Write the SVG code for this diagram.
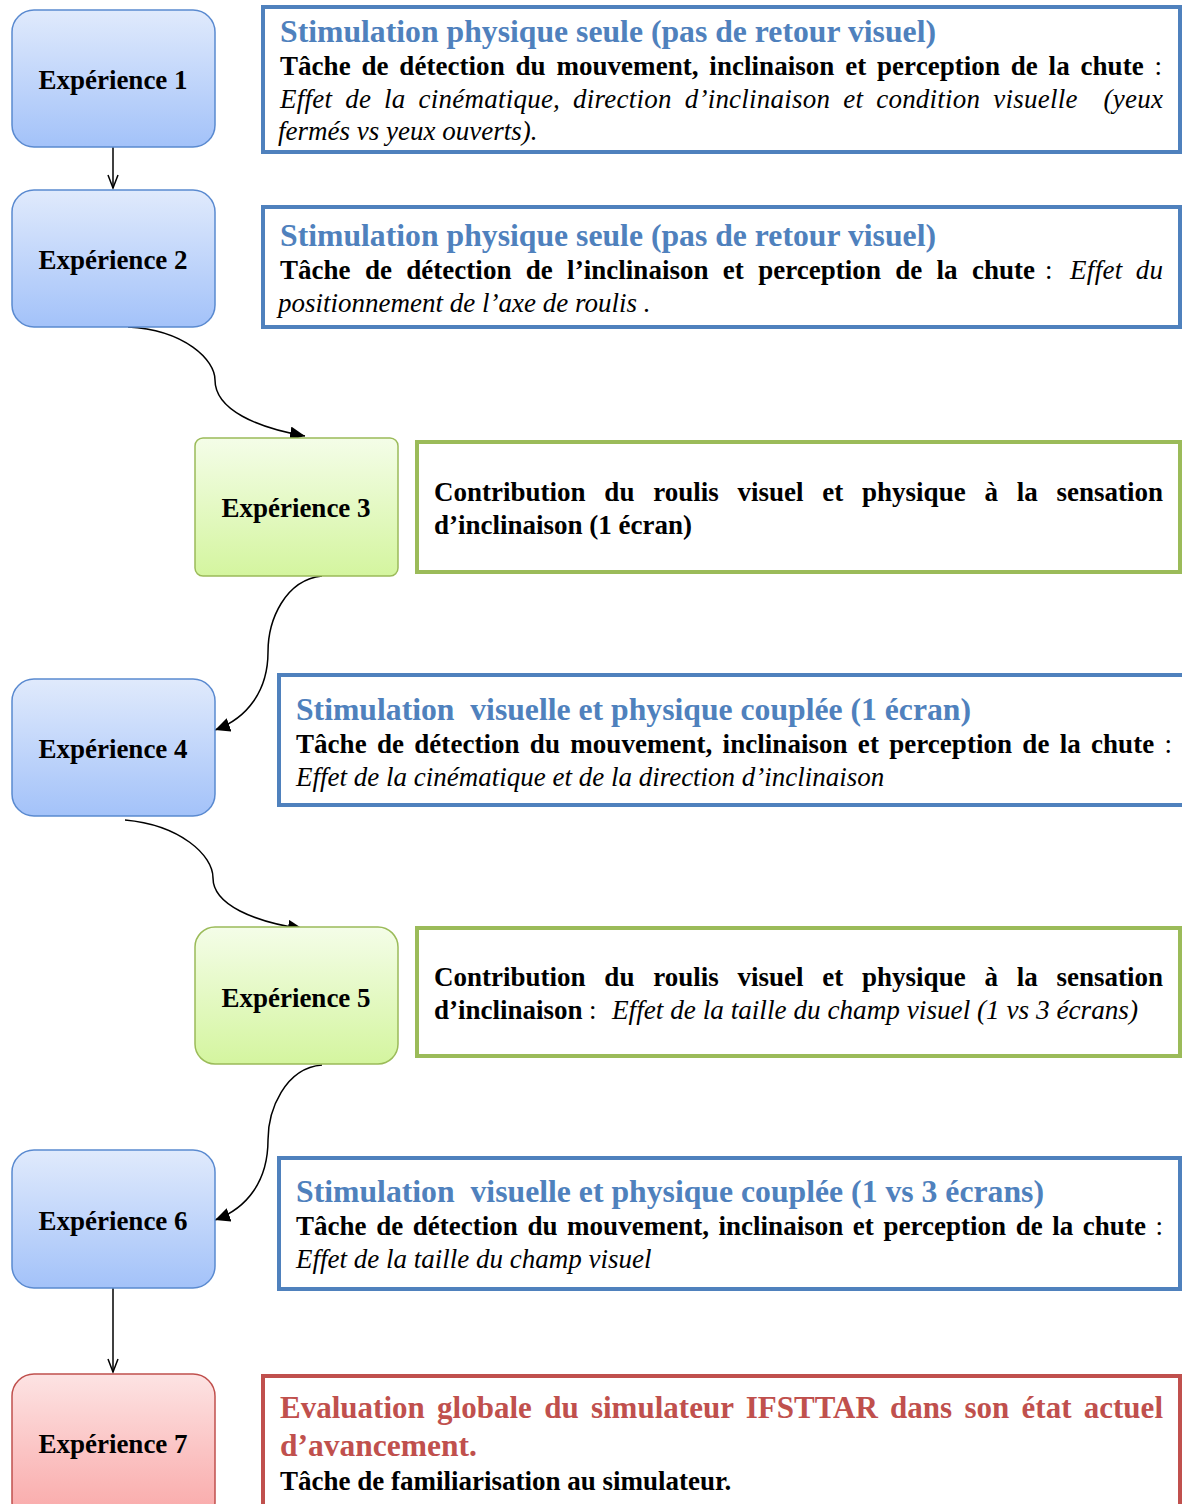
<svg xmlns="http://www.w3.org/2000/svg" width="1182" height="1504" viewBox="0 0 1182 1504">
<style>
.lbl{font-family:"Liberation Serif","Times New Roman",serif;font-size:27px;font-weight:bold;fill:#000;text-anchor:middle}
.t{font-family:"Liberation Serif","Times New Roman",serif;font-size:31px;font-weight:bold}
.tb{fill:#4f81bd}
.tr{fill:#c0504d}
.b{font-family:"Liberation Serif","Times New Roman",serif;font-size:27px;fill:#000}
.bb{font-weight:bold}
.i{font-style:italic;font-weight:normal}
.n{font-weight:normal}
.bluebox{fill:#fff;stroke:#4f81bd;stroke-width:4}
.greenbox{fill:#fff;stroke:#9bbb59;stroke-width:4}
.redbox{fill:#fff;stroke:#c0504d;stroke-width:4}
.nb{fill:url(#gb);stroke:#5a8ad0;stroke-width:1.5}
.ng{fill:url(#gg);stroke:#9bbb59;stroke-width:1.5}
.nr{fill:url(#gr);stroke:#c0504d;stroke-width:1.5}
.c{fill:none;stroke:#000;stroke-width:1.5}
</style>
<defs>
<linearGradient id="gb" x1="0" y1="0" x2="0" y2="1"><stop offset="0" stop-color="#e0eafc"/><stop offset="1" stop-color="#a3c2f9"/></linearGradient>
<linearGradient id="gg" x1="0" y1="0" x2="0" y2="1"><stop offset="0" stop-color="#f4fde8"/><stop offset="1" stop-color="#d4f59f"/></linearGradient>
<linearGradient id="gr" x1="0" y1="0" x2="0" y2="1"><stop offset="0" stop-color="#fde3e3"/><stop offset="1" stop-color="#f9a6a6"/></linearGradient>
<marker id="af" markerWidth="16" markerHeight="14" refX="15" refY="7" orient="auto" markerUnits="userSpaceOnUse"><path d="M0,0 L15,7 L0,14 Z" fill="#000"/></marker>
<marker id="ao" markerWidth="16" markerHeight="12" refX="14" refY="6" orient="auto" markerUnits="userSpaceOnUse"><path d="M1,1 L14,6 L1,11" fill="none" stroke="#000" stroke-width="1.5"/></marker>
</defs>

<g id="connectors">
<path class="c" d="M113,147 L113,188" marker-end="url(#ao)"/>
<path class="c" d="M128,327 C185,330 215,360 215,380 C215,410 258,428 305,436" marker-end="url(#af)"/>
<path class="c" d="M322,576 C285,580 268,620 268,652 C268,690 248,718 215,730" marker-end="url(#af)"/>
<path class="c" d="M125,820 C180,825 213,855 213,878 C213,905 255,922 303,929" marker-end="url(#af)"/>
<path class="c" d="M322,1065 C285,1068 268,1110 268,1140 C268,1180 248,1208 215,1220" marker-end="url(#af)"/>
<path class="c" d="M113,1288 L113,1372" marker-end="url(#ao)"/>
</g>

<g id="exp1"><rect class="nb" x="12" y="10" width="203" height="137" rx="22"/><text class="lbl" x="113" y="89">Expérience 1</text></g>
<g id="exp2"><rect class="nb" x="12" y="190" width="203" height="137" rx="22"/><text class="lbl" x="113" y="269">Expérience 2</text></g>
<g id="exp3"><rect class="ng" x="195" y="438" width="203" height="138" rx="8"/><text class="lbl" x="296" y="517">Expérience 3</text></g>
<g id="exp4"><rect class="nb" x="12" y="679" width="203" height="137" rx="22"/><text class="lbl" x="113" y="758">Expérience 4</text></g>
<g id="exp5"><rect class="ng" x="195" y="927" width="203" height="137" rx="20"/><text class="lbl" x="296" y="1007">Expérience 5</text></g>
<g id="exp6"><rect class="nb" x="12" y="1150" width="203" height="138" rx="22"/><text class="lbl" x="113" y="1230">Expérience 6</text></g>
<g id="exp7"><rect class="nr" x="12" y="1374" width="203" height="150" rx="22"/><text class="lbl" x="113" y="1453">Expérience 7</text></g>

<g id="desc1">
<rect class="bluebox" x="263" y="7" width="917" height="145"/>
<text class="t tb" x="280" y="42" textLength="656" lengthAdjust="spacingAndGlyphs">Stimulation physique seule (pas de retour visuel)</text>
<text class="b bb" x="280" y="75" word-spacing="4" textLength="882" lengthAdjust="spacing">Tâche de détection du mouvement, inclinaison et perception de la chute <tspan class="n">:</tspan></text>
<text class="b i" x="280" y="108" word-spacing="6" textLength="883" lengthAdjust="spacing">Effet de la cinématique, direction d’inclinaison et condition visuelle&#160; (yeux</text>
<text class="b i" x="278" y="140">fermés vs yeux ouverts).</text>
</g>

<g id="desc2">
<rect class="bluebox" x="263" y="207" width="917" height="120"/>
<text class="t tb" x="280" y="246" textLength="656" lengthAdjust="spacingAndGlyphs">Stimulation physique seule (pas de retour visuel)</text>
<text class="b bb" x="280" y="279" word-spacing="7.5" textLength="755" lengthAdjust="spacing">Tâche de détection de l’inclinaison et perception de la chute</text>
<text class="b n" x="1045" y="279">:</text>
<text class="b i" x="1070" y="279" word-spacing="6" textLength="93" lengthAdjust="spacing">Effet du</text>
<text class="b i" x="278" y="312">positionnement de l’axe de roulis .</text>
</g>

<g id="desc3">
<rect class="greenbox" x="417" y="442" width="763" height="130"/>
<text class="b bb" x="434" y="501" word-spacing="12" textLength="729" lengthAdjust="spacing">Contribution du roulis visuel et physique à la sensation</text>
<text class="b bb" x="434" y="534">d’inclinaison (1 écran)</text>
</g>

<g id="desc4">
<rect class="bluebox" x="279" y="675" width="912" height="130"/>
<text class="t tb" x="296" y="720" textLength="675" lengthAdjust="spacingAndGlyphs">Stimulation&#160; visuelle et physique couplée (1 écran)</text>
<text class="b bb" x="296" y="753" word-spacing="3.5" textLength="876" lengthAdjust="spacing">Tâche de détection du mouvement, inclinaison et perception de la chute <tspan class="n">:</tspan></text>
<text class="b i" x="296" y="786">Effet de la cinématique et de la direction d’inclinaison</text>
</g>

<g id="desc5">
<rect class="greenbox" x="417" y="928" width="763" height="128"/>
<text class="b bb" x="434" y="986" word-spacing="12" textLength="729" lengthAdjust="spacing">Contribution du roulis visuel et physique à la sensation</text>
<text class="b bb" x="434" y="1019">d’inclinaison</text>
<text class="b n" x="589" y="1019">:</text>
<text class="b i" x="612" y="1019" textLength="526" lengthAdjust="spacingAndGlyphs">Effet de la taille du champ visuel (1 vs 3 écrans)</text>
</g>

<g id="desc6">
<rect class="bluebox" x="279" y="1158" width="901" height="131"/>
<text class="t tb" x="296" y="1202" textLength="748" lengthAdjust="spacingAndGlyphs">Stimulation&#160; visuelle et physique couplée (1 vs 3 écrans)</text>
<text class="b bb" x="296" y="1235" word-spacing="2.8" textLength="867" lengthAdjust="spacing">Tâche de détection du mouvement, inclinaison et perception de la chute <tspan class="n">:</tspan></text>
<text class="b i" x="296" y="1268">Effet de la taille du champ visuel</text>
</g>

<g id="desc7">
<rect class="redbox" x="263" y="1376" width="917" height="150"/>
<text class="t tr" x="280" y="1418" word-spacing="4.5" textLength="883" lengthAdjust="spacing">Evaluation globale du simulateur IFSTTAR dans son état actuel</text>
<text class="t tr" x="280" y="1456" textLength="197" lengthAdjust="spacingAndGlyphs">d’avancement.</text>
<text class="b bb" x="280" y="1490">Tâche de familiarisation au simulateur.</text>
</g>
</svg>
